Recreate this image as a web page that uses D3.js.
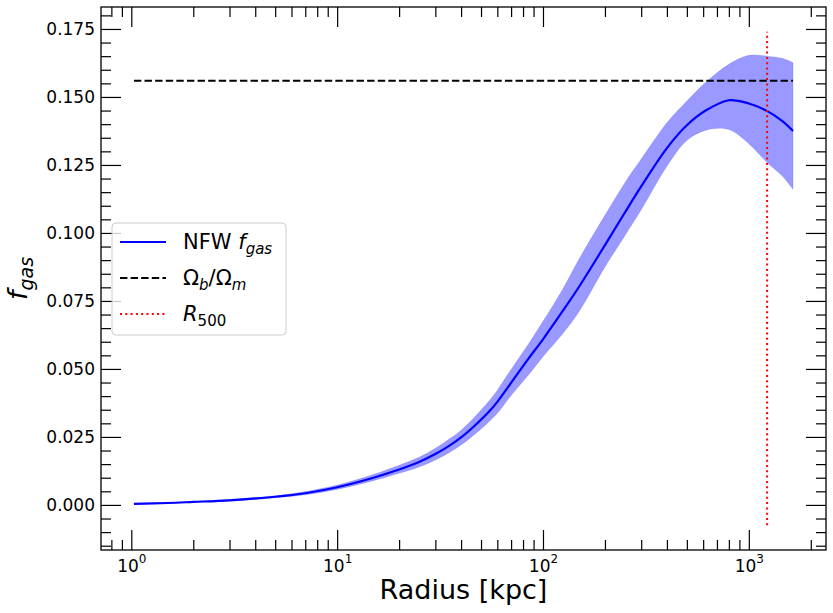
<!DOCTYPE html>
<html>
<head>
<meta charset="utf-8">
<script src="https://cdn.jsdelivr.net/npm/d3@7"></script>
<style>
  body { margin: 0; background: #fff; }
  text { font-family: "DejaVu Sans", sans-serif; }
</style>
</head>
<body>
<div id="chart"></div>
<script>
// gas fraction profile
const radius   = [1.03, 1.5, 2, 3, 5, 7, 10, 15, 20, 25, 30, 35, 40, 47, 55, 60, 70, 85, 100, 125, 150, 200, 250, 300, 400, 500, 620, 800, 1000, 1230, 1450, 1640];
const fgasMean = [0.0004, 0.0007, 0.0011, 0.0017, 0.0030, 0.0043, 0.0065, 0.0100, 0.0130, 0.0158, 0.0187, 0.0217, 0.0248, 0.0294, 0.0345, 0.0379, 0.0449, 0.0538, 0.0609, 0.0714, 0.0803, 0.0955, 0.1075, 0.1171, 0.1312, 0.1396, 0.1451, 0.1488, 0.1476, 0.1448, 0.1412, 0.1375];
const fgasHigh = [0.0005, 0.0008, 0.0013, 0.0020, 0.0034, 0.0049, 0.0073, 0.0112, 0.0146, 0.0175, 0.0208, 0.0242, 0.0275, 0.0327, 0.0385, 0.0422, 0.0498, 0.0592, 0.0675, 0.0795, 0.0905, 0.1065, 0.1185, 0.1272, 0.1405, 0.1485, 0.1555, 0.1620, 0.1653, 0.1650, 0.1642, 0.1626];
const fgasLow  = [0.0003, 0.0006, 0.0009, 0.0014, 0.0026, 0.0037, 0.0057, 0.0089, 0.0116, 0.0139, 0.0165, 0.0192, 0.0220, 0.0262, 0.0308, 0.0337, 0.0402, 0.0478, 0.0545, 0.0630, 0.0712, 0.0875, 0.0990, 0.1085, 0.1245, 0.1340, 0.1378, 0.1380, 0.1328, 0.1258, 0.1210, 0.1160];
const baryonFrac = 0.156;         // Omega_b / Omega_m
const r500 = 1227;                // kpc
const r500Span = [-0.0075, 0.174]; // vertical extent of the R500 marker
const yMajor = [0, 0.025, 0.05, 0.075, 0.1, 0.125, 0.15, 0.175];
const xMajor = [1, 10, 100, 1000];

const width = 833, height = 613;
const margin = {top: 7, right: 7, bottom: 63, left: 101};

const svg = d3.select('#chart').append('svg')
  .attr('width', width)
  .attr('height', height);

// matplotlib-like 5% margins around the data
const lx = d3.extent(radius).map(Math.log10);
const padX = (lx[1] - lx[0]) * 0.05;
const x = d3.scaleLog()
  .domain([Math.pow(10, lx[0] - padX), Math.pow(10, lx[1] + padX)])
  .range([margin.left, width - margin.right]);

const yExt = [Math.min(d3.min(fgasLow), r500Span[0]), Math.max(d3.max(fgasHigh), r500Span[1])];
const padY = (yExt[1] - yExt[0]) * 0.05;
const y = d3.scaleLinear()
  .domain([yExt[0] - padY, yExt[1] + padY])
  .range([height - margin.bottom, margin.top]);

// minor tick positions
const xMinor = [];
[0.1, 1, 10, 100, 1000].forEach(dec => {
  for (let k = 2; k <= 9; k++) {
    const v = dec * k;
    if (v > x.domain()[0] && v < x.domain()[1]) xMinor.push(v);
  }
});
const yMinor = d3.range(-0.015, 0.1826, 0.005).filter(v => Math.abs(Math.round(v / 0.025) * 0.025 - v) > 1e-6);

// clip to plot area
svg.append('clipPath').attr('id', 'clip')
  .append('rect')
  .attr('x', margin.left).attr('y', margin.top)
  .attr('width', width - margin.left - margin.right)
  .attr('height', height - margin.top - margin.bottom);

const plot = svg.append('g').attr('clip-path', 'url(#clip)');

// uncertainty band
const band = d3.area()
  .x((d, i) => x(radius[i]))
  .y0((d, i) => y(fgasLow[i]))
  .y1((d, i) => y(fgasHigh[i]))
  .curve(d3.curveCatmullRom.alpha(0.5));

plot.append('path')
  .datum(radius)
  .attr('d', band)
  .attr('fill', '#0000ff')
  .attr('fill-opacity', 0.4)
  .attr('stroke', '#0000ff')
  .attr('stroke-opacity', 0.15)
  .attr('stroke-width', 0.8);

// mean profile
const line = d3.line()
  .x((d, i) => x(radius[i]))
  .y(d => y(d))
  .curve(d3.curveCatmullRom.alpha(0.5));

plot.append('path')
  .datum(fgasMean)
  .attr('d', line)
  .attr('fill', 'none')
  .attr('stroke', '#0000ff')
  .attr('stroke-width', 2.2);

// cosmic baryon fraction
plot.append('line')
  .attr('x1', x(d3.min(radius))).attr('x2', x(d3.max(radius)))
  .attr('y1', y(baryonFrac)).attr('y2', y(baryonFrac))
  .attr('stroke', '#000')
  .attr('stroke-width', 2)
  .attr('stroke-dasharray', '7.4,3.2');

// R500 marker
plot.append('line')
  .attr('x1', x(r500)).attr('x2', x(r500))
  .attr('y1', y(r500Span[0])).attr('y2', y(r500Span[1]))
  .attr('stroke', '#ff0000')
  .attr('stroke-width', 2)
  .attr('stroke-dasharray', '2,3.3');

// axes with inward ticks on all four sides
const bottom = height - margin.bottom, right = width - margin.right;

function styleAxis(g) {
  g.select('.domain').remove();
  g.selectAll('.tick line').attr('stroke', '#000').attr('stroke-width', 1.2);
  g.selectAll('.tick text').attr('fill', '#000');
}

const gx = svg.append('g')
  .attr('transform', `translate(0,${bottom})`)
  .call(d3.axisBottom(x).tickValues(xMajor).tickSize(-20).tickSizeOuter(0).tickPadding(6))
  .call(styleAxis)
  .attr('font-size', 17);

gx.selectAll('.tick text').each(function(d) {
  const t = d3.select(this);
  t.text(null).attr('dy', '0.95em');
  t.append('tspan').text('10');
  t.append('tspan').attr('dy', '-0.75em').attr('font-size', 12).text(Math.round(Math.log10(d)));
});

svg.append('g')
  .attr('transform', `translate(0,${bottom})`)
  .call(d3.axisBottom(x).tickValues(xMinor).tickSize(-10).tickFormat(''))
  .call(styleAxis);

svg.append('g')
  .attr('transform', `translate(0,${margin.top})`)
  .call(d3.axisTop(x).tickValues(xMajor).tickSize(-20).tickFormat(''))
  .call(styleAxis);

svg.append('g')
  .attr('transform', `translate(0,${margin.top})`)
  .call(d3.axisTop(x).tickValues(xMinor).tickSize(-10).tickFormat(''))
  .call(styleAxis);

svg.append('g')
  .attr('transform', `translate(${margin.left},0)`)
  .call(d3.axisLeft(y).tickValues(yMajor).tickSize(-20).tickPadding(6).tickFormat(d3.format('.3f')))
  .call(styleAxis)
  .attr('font-size', 17);

svg.append('g')
  .attr('transform', `translate(${margin.left},0)`)
  .call(d3.axisLeft(y).tickValues(yMinor).tickSize(-10).tickFormat(''))
  .call(styleAxis);

svg.append('g')
  .attr('transform', `translate(${right},0)`)
  .call(d3.axisRight(y).tickValues(yMajor).tickSize(-20).tickFormat(''))
  .call(styleAxis);

svg.append('g')
  .attr('transform', `translate(${right},0)`)
  .call(d3.axisRight(y).tickValues(yMinor).tickSize(-10).tickFormat(''))
  .call(styleAxis);

// frame
svg.append('rect')
  .attr('x', margin.left).attr('y', margin.top)
  .attr('width', right - margin.left)
  .attr('height', bottom - margin.top)
  .attr('fill', 'none')
  .attr('stroke', '#000')
  .attr('stroke-width', 1.3);

// axis titles
svg.append('text')
  .attr('x', (margin.left + right) / 2)
  .attr('y', 599)
  .attr('text-anchor', 'middle')
  .attr('font-size', 27)
  .text('Radius [kpc]');

const yl = svg.append('text')
  .attr('transform', `translate(27,${(margin.top + bottom) / 2}) rotate(-90)`)
  .attr('text-anchor', 'middle')
  .attr('font-size', 27);
yl.append('tspan').attr('font-style', 'italic').text('f');
yl.append('tspan').attr('font-style', 'italic').attr('font-size', 19).attr('dy', '0.3em').text('gas');

// legend
const legend = svg.append('g').attr('transform', 'translate(112,223)');

legend.append('rect')
  .attr('width', 174).attr('height', 112)
  .attr('rx', 4).attr('ry', 4)
  .attr('fill', '#fff').attr('fill-opacity', 0.8)
  .attr('stroke', '#cccccc').attr('stroke-width', 1);

const entries = [
  {stroke: '#0000ff', dash: null, width: 2.2,
   parts: [['NFW ', false, false], ['f', true, false], ['gas', true, true]]},
  {stroke: '#000', dash: '7.4,3.2', width: 2,
   parts: [['Ω', false, false], ['b', true, true], ['/Ω', false, false], ['m', true, true]]},
  {stroke: '#ff0000', dash: '2,3.3', width: 2,
   parts: [['R', true, false], ['500', false, true]]}
];

entries.forEach((e, i) => {
  const g = legend.append('g').attr('transform', `translate(0,${19 + i * 36})`);
  g.append('line')
    .attr('x1', 8).attr('x2', 54)
    .attr('stroke', e.stroke)
    .attr('stroke-width', e.width)
    .attr('stroke-dasharray', e.dash);
  const t = g.append('text')
    .attr('x', 71).attr('y', 7)
    .attr('font-size', 21);
  let down = false;
  e.parts.forEach(([s, ital, sub]) => {
    const sp = t.append('tspan').text(s);
    if (ital) sp.attr('font-style', 'italic');
    if (sub) {
      sp.attr('font-size', 15);
      if (!down) { sp.attr('dy', 5); down = true; }
    } else if (down) {
      sp.attr('dy', -5); down = false;
    }
  });
});
</script>
</body>
</html>
